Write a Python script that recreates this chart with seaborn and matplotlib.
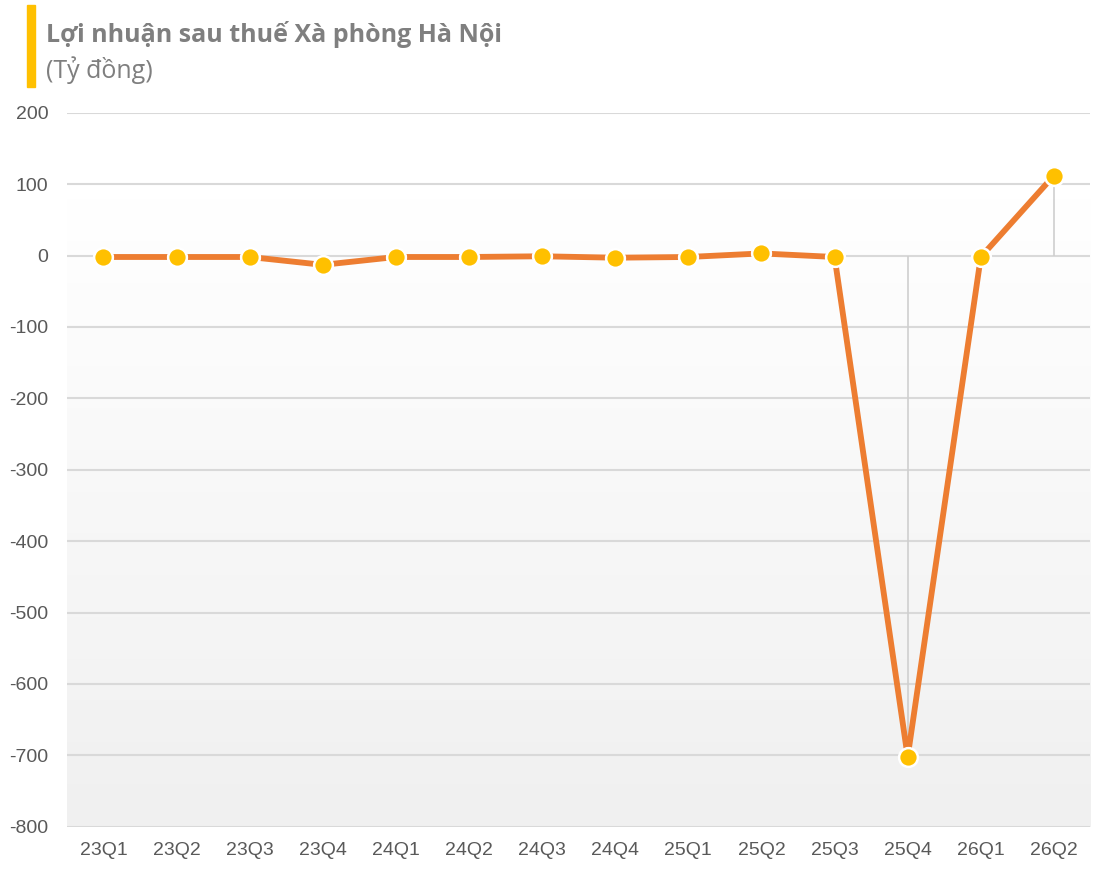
import numpy as np
import pandas as pd
import matplotlib
matplotlib.use('Agg')
import matplotlib.pyplot as plt
from matplotlib.colors import LinearSegmentedColormap
from matplotlib.patches import Rectangle
import seaborn as sns

# Data (tỷ đồng)
quarters = ['23Q1', '23Q2', '23Q3', '23Q4', '24Q1', '24Q2', '24Q3',
            '24Q4', '25Q1', '25Q2', '25Q3', '25Q4', '26Q1', '26Q2']
profit = [-2, -2, -2, -13, -2, -2, -1, -3, -2, 3, -2, -702, -2, 112]
y_ticks = [200, 100, 0, -100, -200, -300, -400, -500, -600, -700, -800]

TITLE = 'Lợi nhuận sau thuế Xà phòng Hà Nội'
SUBTITLE = '(Tỷ đồng)'

LINE_COLOR = '#ED7D31'
MARKER_COLOR = '#FFC000'
TEXT_COLOR = '#595959'
GRID_COLOR = '#D9D9D9'

sns.set_theme(style='white')
plt.rcParams['font.family'] = ['Liberation Sans', 'DejaVu Sans']

df = pd.DataFrame({'pos': np.arange(len(quarters)), 'profit': profit})

fig = plt.figure(figsize=(11.15, 8.74), dpi=100)
ax = fig.add_axes([0.060, 0.054, 0.918, 0.817])
ax.set_xlim(-0.5, len(quarters) - 0.5)
ax.set_ylim(min(y_ticks), max(y_ticks))

# Plot-area gradient: white near the top, light gray toward the bottom
grad = LinearSegmentedColormap.from_list('bg', ['#FFFFFF', '#F0F0F0'])
ax.imshow(np.linspace(0, 1, 256).reshape(-1, 1), cmap=grad, aspect='auto',
          extent=(-0.5, len(quarters) - 0.5, min(y_ticks), 80), zorder=0)

# Gridlines
for t in y_ticks:
    ax.axhline(t, color=GRID_COLOR, lw=1.5 if t != min(y_ticks) else 2.2, zorder=1)

# Drop lines for the big moves
big = df[df['profit'].abs() > 50]
ax.vlines(big['pos'], 0, big['profit'], color='#CFCFCF', lw=1.2, zorder=1)

sns.lineplot(data=df, x='pos', y='profit', ax=ax, color=LINE_COLOR, lw=4.2,
             marker='o', markersize=13.5, markerfacecolor=MARKER_COLOR,
             markeredgecolor='white', markeredgewidth=1.8, zorder=3)

ax.set_xticks(df['pos'])
ax.set_xticklabels(quarters)
ax.set_yticks(y_ticks)
ax.set_yticklabels([str(t) for t in y_ticks])
ax.tick_params(axis='both', length=0, labelsize=14, colors=TEXT_COLOR)
ax.tick_params(axis='x', pad=11)
ax.tick_params(axis='y', pad=13.5)
ax.set_xlabel('')
ax.set_ylabel('')
for s in ax.spines.values():
    s.set_visible(False)

# Title block with the yellow accent bar
fig.patches.append(Rectangle((27 / 1115, 1 - 87 / 874), 8 / 1115, 82 / 874,
                             transform=fig.transFigure, color=MARKER_COLOR))
fig.text(46 / 1115, 1 - 34 / 874, TITLE, fontsize=18, fontweight='bold',
         color='#7F7F7F', family=['Open Sans', 'DejaVu Sans'], va='center')
fig.text(46 / 1115, 1 - 70 / 874, SUBTITLE, fontsize=18,
         color='#7F7F7F', family=['Open Sans', 'DejaVu Sans'], va='center')

fig.savefig('out.png', dpi=100)
